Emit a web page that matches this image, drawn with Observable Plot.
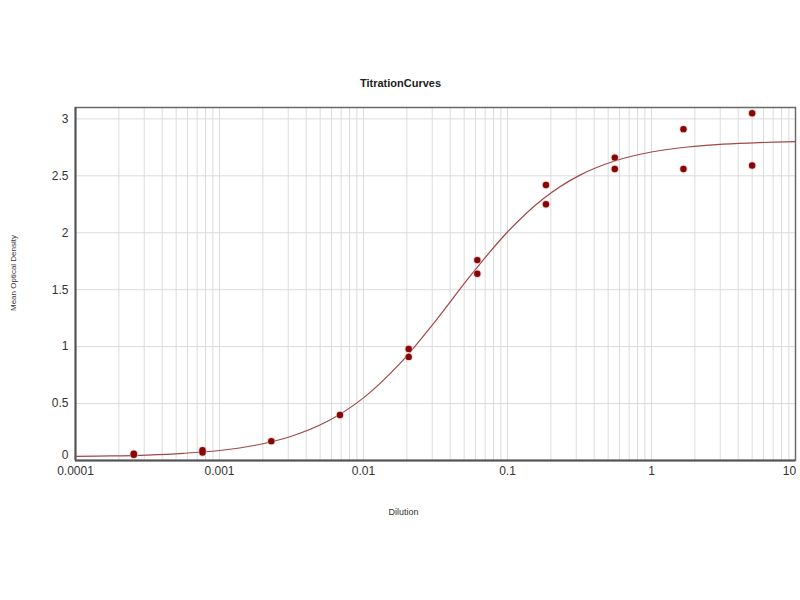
<!DOCTYPE html>
<html>
<head>
<meta charset="utf-8">
<script src="https://cdn.jsdelivr.net/npm/d3@7"></script>
<script src="https://cdn.jsdelivr.net/npm/@observablehq/plot@0.6"></script>
<style>
  html, body { margin: 0; padding: 0; background: #fff; }
</style>
</head>
<body>
<div id="chart"></div>
<script>
// Measured points (dilution, mean optical density)
const dilutions = [5, 5, 1.667, 1.667, 0.556, 0.556, 0.185, 0.185, 0.0617, 0.0617,
                   0.0206, 0.0206, 0.00686, 0.00229, 0.000762, 0.000762, 0.000254, 0.000254];
const densities = [3.05, 2.59, 2.91, 2.56, 2.66, 2.56, 2.42, 2.25, 1.76, 1.64,
                   0.98, 0.91, 0.40, 0.17, 0.09, 0.07, 0.06, 0.05];

// Fitted curve
const curveX = [0.0001, 0.000178, 0.000316, 0.000562, 0.001, 0.00178, 0.00316, 0.00562,
                0.01, 0.0178, 0.0316, 0.0562, 0.1, 0.178, 0.316, 0.562, 1, 1.78, 3.16, 5.62, 10];
const curveY = [0.036, 0.040, 0.048, 0.063, 0.088, 0.134, 0.213, 0.344,
                0.550, 0.848, 1.225, 1.634, 2.007, 2.301, 2.504, 2.632, 2.709, 2.753, 2.778, 2.792, 2.800];

const xTicks = [0.0001, 0.001, 0.01, 0.1, 1, 10];
const xTickLabels = ["0.0001", "0.001", "0.01", "0.1", "1", "10"];
const yTicks = [0, 0.5, 1, 1.5, 2, 2.5, 3];
const yTickLabels = ["0", "0.5", "1", "1.5", "2", "2.5", "3"];

const titleText = "TitrationCurves";
const xLabel = "Dilution";
const yLabel = "Mean Optical Density";

const points = dilutions.map((d, i) => ({x: d, y: densities[i]}));
const curve = curveX.map((d, i) => ({x: d, y: curveY[i]}));

// minor log grid positions (1..9 per decade)
const gridXTicks = [];
for (let e = -4; e < 1; e++) for (let m = 1; m <= 9; m++) gridXTicks.push(m * Math.pow(10, e));
gridXTicks.push(10);

const fmtX = d => xTickLabels[xTicks.findIndex(t => Math.abs(t - d) < t * 1e-6)];
const fmtY = d => yTickLabels[yTicks.findIndex(t => Math.abs(t - d) < 1e-9)];
const xMid = xTicks.slice(0, -1);
const xLast = xTicks.slice(-1);
const yZero = yTicks.slice(0, 1);
const yRest = yTicks.slice(1);

const plot = Plot.plot({
  width: 800,
  height: 600,
  marginLeft: 75,
  marginRight: 5,
  marginTop: 107,
  marginBottom: 140,
  style: {fontFamily: "'Liberation Sans', Arial, sans-serif", fontSize: "12px", color: "#333", background: "#fff"},
  x: {type: "log", domain: [0.0001, 10]},
  y: {domain: [0, 3.1]},
  marks: [
    Plot.gridX(gridXTicks, {stroke: "#dcdcdc", strokeOpacity: 1, strokeWidth: 1}),
    Plot.gridY(yTicks, {stroke: "#dcdcdc", strokeOpacity: 1, strokeWidth: 1}),
    Plot.axisX({ticks: xMid, tickSize: 0, tickPadding: 6, tickFormat: fmtX, label: null, fill: "#333"}),
    Plot.axisX({ticks: xLast, tickSize: 0, tickPadding: 6, dx: -6, tickFormat: fmtX, label: null, fill: "#333"}),
    Plot.axisY({ticks: yRest, tickSize: 0, tickPadding: 7, tickFormat: fmtY, label: null, fill: "#333"}),
    Plot.axisY({ticks: yZero, tickSize: 0, tickPadding: 7, dy: -5, tickFormat: fmtY, label: null, fill: "#333"}),
    Plot.frame({stroke: "#6a6a6a", strokeWidth: 1.5}),
    Plot.ruleX([0.0001], {stroke: "#555", strokeWidth: 2}),
    Plot.ruleY([0], {stroke: "#555", strokeWidth: 2}),
    Plot.line(curve, {x: "x", y: "y", curve: "catmull-rom", stroke: "#a04848", strokeWidth: 1.2}),
    Plot.dot(points, {x: "x", y: "y", r: 4.2, fill: "#f0b0b0", stroke: "none", fillOpacity: 0.6}),
    Plot.dot(points, {x: "x", y: "y", r: 3.2, fill: "#850808", stroke: "none"}),
    Plot.text([titleText], {frameAnchor: "top", dx: -35, dy: -28, fontSize: 11, fontWeight: "bold", fill: "#222"}),
    Plot.text([xLabel], {frameAnchor: "bottom", dx: -32, dy: 54, fontSize: 9, fill: "#333"}),
    Plot.text([yLabel], {frameAnchor: "left", textAnchor: "middle", dx: -62, dy: -11, rotate: -90, fontSize: 8, fill: "#333"})
  ]
});
document.getElementById("chart").appendChild(plot);
</script>
</body>
</html>
